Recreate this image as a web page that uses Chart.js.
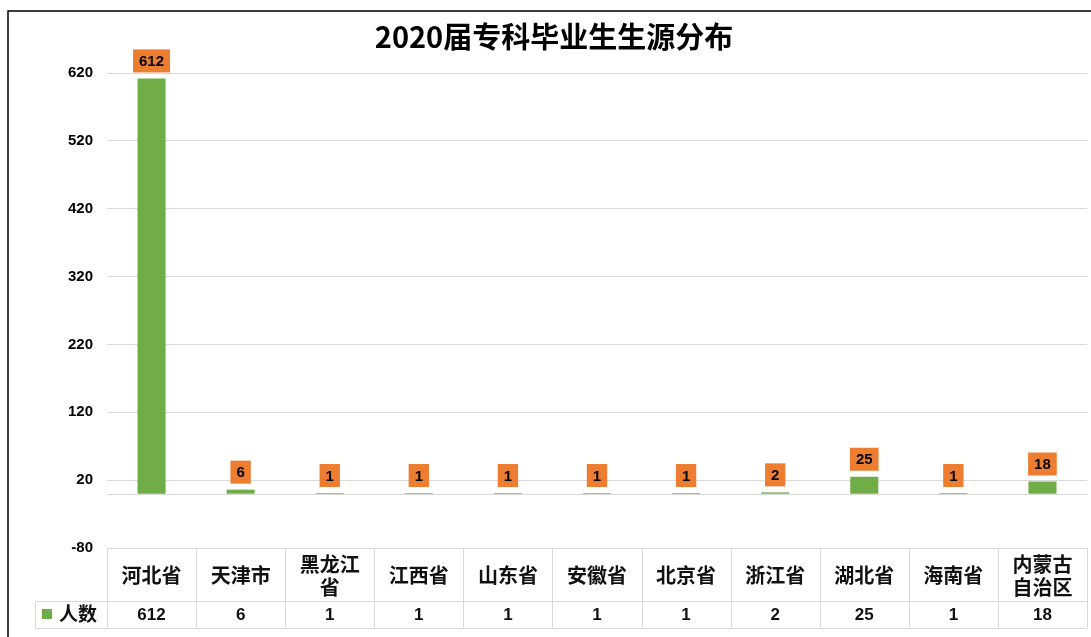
<!DOCTYPE html>
<html>
<head>
<meta charset="utf-8">
<script src="https://cdn.jsdelivr.net/npm/chart.js@4"></script>
<style>
html,body{margin:0;padding:0;background:#fff;}
#wrap{width:1091px;height:637px;}
</style>
</head>
<body>
<div id="wrap"><canvas id="c" width="1091" height="637"></canvas></div>
<script>
const chartTitle = '2020届专科毕业生生源分布';
const categories = [['河北省'], ['天津市'], ['黑龙江', '省'], ['江西省'], ['山东省'], ['安徽省'], ['北京省'], ['浙江省'], ['湖北省'], ['海南省'], ['内蒙古', '自治区']];
const seriesName = '人数';
const values = [612, 6, 1, 1, 1, 1, 1, 2, 25, 1, 18];
const yMin = -80, yMax = 620, yStep = 100;

const GREEN = '#70AD47', ORANGE = '#ED7D31', GRID = '#d9d9d9';
const CJK = '"Noto Sans CJK SC", "Noto Sans", sans-serif';
const LAT = '"Liberation Sans", Arial, sans-serif';

const decor = {
  id: 'decor',
  beforeDraw(chart) {
    const ctx = chart.ctx;
    ctx.save();
    ctx.fillStyle = '#fff';
    ctx.fillRect(0, 0, chart.width, chart.height);
    ctx.strokeStyle = '#000';
    ctx.lineWidth = 1.5;
    ctx.beginPath();
    ctx.moveTo(8, 637); ctx.lineTo(8, 11); ctx.lineTo(1091, 11);
    ctx.stroke();
    ctx.restore();
  },
  beforeDatasetsDraw(chart) {
    const ctx = chart.ctx, y = chart.scales.y, a = chart.chartArea;
    const y0 = Math.round(y.getPixelForValue(0)) + 0.5;
    ctx.save();
    ctx.strokeStyle = GRID; ctx.lineWidth = 1;
    ctx.beginPath(); ctx.moveTo(a.left, y0); ctx.lineTo(a.right, y0); ctx.stroke();
    ctx.restore();
  },
  afterDraw(chart) {
    const ctx = chart.ctx, a = chart.chartArea, x = chart.scales.x;
    ctx.save();
    // title
    ctx.fillStyle = '#000';
    ctx.font = 'bold 29px ' + CJK;
    ctx.textAlign = 'center'; ctx.textBaseline = 'middle';
    ctx.fillText(chartTitle, 554, 37);
    // value labels
    const meta = chart.getDatasetMeta(0);
    ctx.font = 'bold 15px ' + LAT;
    meta.data.forEach((bar, i) => {
      const txt = String(values[i]);
      const w = ctx.measureText(txt).width + 12;
      const h = 23;
      const bottom = bar.y - 6;
      ctx.fillStyle = ORANGE;
      ctx.fillRect(bar.x - w / 2, bottom - h, w, h);
      ctx.fillStyle = '#000';
      ctx.fillText(txt, bar.x, bottom - h / 2 + 1);
    });
    // data table
    const n = categories.length;
    const colW = (a.right - a.left) / n;
    const top = a.bottom, mid = 601, bot = 628, legL = 35;
    ctx.strokeStyle = GRID; ctx.lineWidth = 1;
    ctx.beginPath();
    ctx.moveTo(a.left, top + 0.5); ctx.lineTo(a.right, top + 0.5);
    ctx.moveTo(legL, mid + 0.5); ctx.lineTo(a.right, mid + 0.5);
    ctx.moveTo(legL, bot + 0.5); ctx.lineTo(a.right, bot + 0.5);
    ctx.moveTo(legL + 0.5, mid); ctx.lineTo(legL + 0.5, bot);
    for (let i = 0; i <= n; i++) {
      const cx = Math.round(a.left + i * colW) + 0.5;
      ctx.moveTo(cx, top); ctx.lineTo(cx, bot);
    }
    ctx.stroke();
    ctx.fillStyle = '#111';
    for (let i = 0; i < n; i++) {
      const cx = x.getPixelForValue(i);
      const lines = categories[i];
      ctx.font = 'bold 20px ' + CJK;
      if (lines.length === 1) {
        ctx.fillText(lines[0], cx, 575);
      } else {
        ctx.fillText(lines[0], cx, 564);
        ctx.fillText(lines[1], cx, 587);
      }
      ctx.font = 'bold 17px ' + LAT;
      ctx.fillText(String(values[i]), cx, 615);
    }
    // legend cell
    ctx.fillStyle = GREEN;
    ctx.fillRect(42, 609, 10, 10);
    ctx.fillStyle = '#111';
    ctx.font = 'bold 19px ' + CJK;
    ctx.textAlign = 'left';
    ctx.fillText(seriesName, 59, 614);
    ctx.restore();
  }
};

new Chart(document.getElementById('c'), {
  type: 'bar',
  data: {
    labels: categories,
    datasets: [{
      label: seriesName,
      data: values,
      backgroundColor: GREEN,
      borderWidth: 0,
      barPercentage: 0.315,
      categoryPercentage: 1
    }]
  },
  options: {
    responsive: false,
    animation: false,
    layout: { padding: { left: 0, right: 4, top: 73, bottom: 89 } },
    plugins: { legend: { display: false }, title: { display: false }, tooltip: { enabled: false } },
    scales: {
      x: { display: false },
      y: {
        min: yMin, max: yMax,
        afterFit(scale) { scale.width = 107; },
        ticks: {
          stepSize: yStep,
          color: '#000',
          padding: 14,
          font: { family: LAT, size: 15, weight: 'bold' }
        },
        grid: { color: GRID, drawTicks: false },
        border: { display: false }
      }
    }
  },
  plugins: [decor]
});
</script>
</body>
</html>
